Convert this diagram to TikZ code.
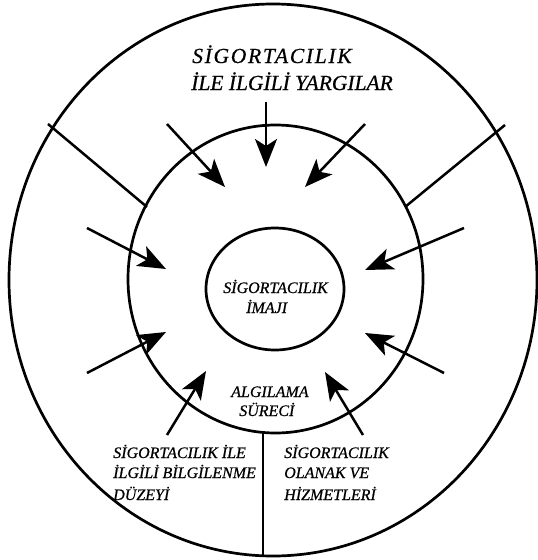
\documentclass[tikz,border=0pt]{standalone}
\usepackage{fontspec}
\setmainfont{Liberation Serif}[FakeBold=0.6]
\newfontfamily\titlespaced{Liberation Serif}[LetterSpace=8,FakeBold=0.6]
\newfontfamily\titleplain{Liberation Serif}[FakeBold=0.6]
\usetikzlibrary{arrows.meta}
\begin{document}
\begin{tikzpicture}[x=1pt,y=-1pt, line width=2.5pt,
  ring/.style={draw, line width=2.7pt},
  arr/.style={-{Stealth[length=28pt,width=22pt,inset=7pt]}, line width=2.5pt},
  lbl/.style={anchor=base west, inner sep=0, font=\itshape\fontsize{16}{18}\selectfont},
  ttl/.style={anchor=base west, inner sep=0, font=\itshape\fontsize{21.5}{26}\selectfont}]
\useasboundingbox (0,0) rectangle (538,560);
% rings
\draw[ring] (273,280) ellipse [x radius=264, y radius=276];
\draw[ring] (275.5,279) ellipse [x radius=147.5, y radius=154];
\draw[ring] (275,289) ellipse [x radius=69, y radius=61];
% plain spokes
\coordinate (ol) at (48,124);  \coordinate (ml) at (147,207);
\coordinate (or) at (505,125); \coordinate (mr) at (405,207);
\coordinate (mb) at (263,433); \coordinate (ob) at (263,556);
\draw (ol) -- (ml);
\draw (or) -- (mr);
\draw (mb) -- (ob);
% arrows
\coordinate (a1s) at (266,102); \coordinate (a1e) at (266,167);
\coordinate (a2s) at (167,124); \coordinate (a2e) at (225,187);
\coordinate (a3s) at (365,124); \coordinate (a3e) at (305,187);
\coordinate (a4s) at (87,228);  \coordinate (a4e) at (166,269);
\coordinate (a5s) at (87,373);  \coordinate (a5e) at (166,332);
\coordinate (a6s) at (464,228); \coordinate (a6e) at (365,270);
\coordinate (a7s) at (444,373); \coordinate (a7e) at (365,333);
\coordinate (a8s) at (167,435); \coordinate (a8e) at (206,371);
\coordinate (a9s) at (363,435); \coordinate (a9e) at (325,372);
\foreach \i in {1,...,9} \draw[arr] (a\i s) -- (a\i e);
% texts
\node[ttl] (t1) at (191,63) {\titlespaced\itshape SİGORTACILIK};
\node[ttl] (t2) at (190,90) {\titleplain\itshape İLE İLGİLİ YARGILAR};
\node[lbl] (c1) at (222,293) {SİGORTACILIK};
\node[lbl] (c2) at (245,313) {İMAJI};
\node[lbl] (p1) at (230,397) {ALGILAMA};
\node[lbl] (p2) at (238,416) {SÜRECİ};
\node[lbl] (l1) at (112,458) {SİGORTACILIK İLE};
\node[lbl] (l2) at (112,478) {İLGİLİ BİLGİLENME};
\node[lbl] (l3) at (112,500) {DÜZEYİ};
\node[lbl] (r1) at (283,458) {SİGORTACILIK};
\node[lbl] (r2) at (283,478) {OLANAK VE};
\node[lbl] (r3) at (283,500) {HİZMETLERİ};
\end{tikzpicture}
\end{document}
